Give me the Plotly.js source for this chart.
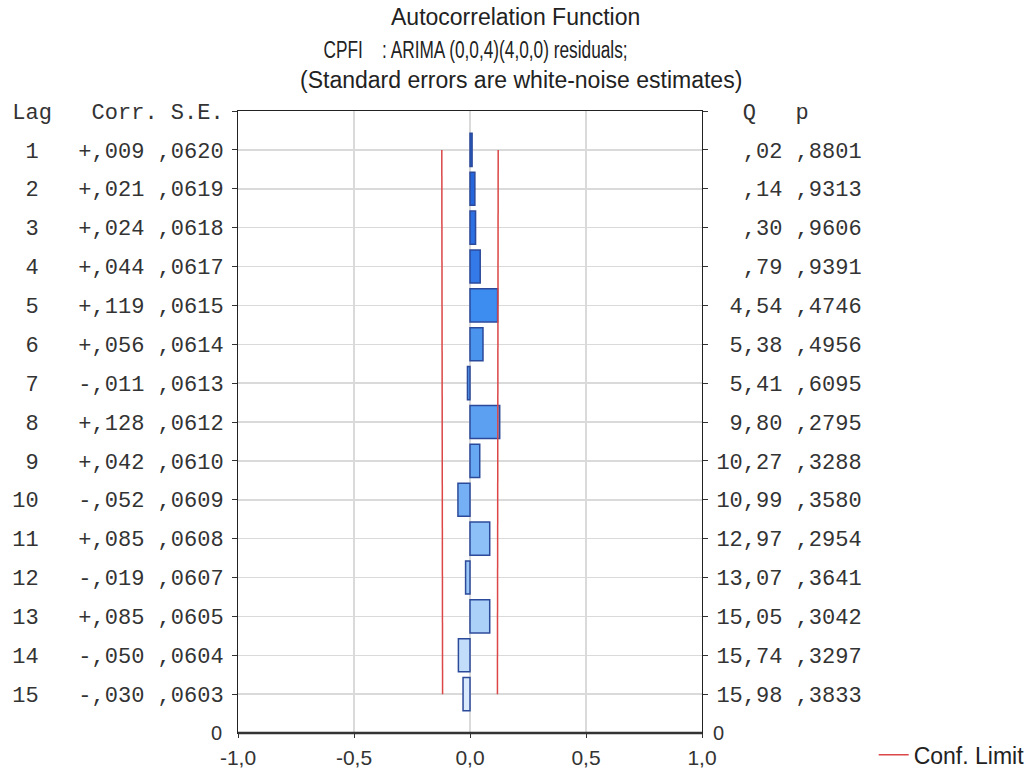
<!DOCTYPE html>
<html>
<head>
<meta charset="utf-8">
<script src="https://cdn.plot.ly/plotly-3.0.1.min.js"></script>
<style>html,body{margin:0;padding:0;background:#fff;}#chart{width:1035px;height:773px;}</style>
</head>
<body>
<div id="chart"></div>
<script>
// ---- data ----
const lags = [1,2,3,4,5,6,7,8,9,10,11,12,13,14,15];
const corr = [0.009,0.021,0.024,0.044,0.119,0.056,-0.011,0.128,0.042,-0.052,0.085,-0.019,0.085,-0.050,-0.030];
const se   = [0.0620,0.0619,0.0618,0.0617,0.0615,0.0614,0.0613,0.0612,0.0610,0.0609,0.0608,0.0607,0.0605,0.0604,0.0603];
const qStat = [0.02,0.14,0.30,0.79,4.54,5.38,5.41,9.80,10.27,10.99,12.97,13.07,15.05,15.74,15.98];
const pVal  = [0.8801,0.9313,0.9606,0.9391,0.4746,0.4956,0.6095,0.2795,0.3288,0.3580,0.2954,0.3641,0.3042,0.3297,0.3833];
const xTickVals = [-1,-0.5,0,0.5,1];
const xTickText = ['-1,0','-0,5','0,0','0,5','1,0'];
const barColors = ['#1f5fd8','#2566dc','#2b6fe2','#3379e8','#3d8cef','#4a94ee','#5498ef','#5ca1f1',
                   '#68a8f2','#74b0f3','#8cc0f6','#9cc8f7','#abd1f8','#c2ddf9','#d9eafc'];

// ---- formatting ----
const NB = '\u00A0';
const sp = s => s.replace(/ /g, NB);
const fCorr = v => (v < 0 ? '-' : '+') + ',' + String(Math.round(Math.abs(v)*1000)).padStart(3,'0');
const fSE = v => ',' + String(Math.round(v*10000)).padStart(4,'0');
const fQ = v => { let s = v.toFixed(2).replace('.', ','); if (s.startsWith('0,')) s = s.slice(1); return s; };
const leftText = [sp('Lag   Corr. S.E.')].concat(lags.map((l,i) => sp(String(l).padStart(2) + '   ' + fCorr(corr[i]) + ' ' + fSE(se[i]))));
const rightText = [sp('  Q   p')].concat(lags.map((l,i) => sp(fQ(qStat[i]).padStart(5) + ' ' + fSE(pVal[i]))));
const yTickVals = [0].concat(lags);

// confidence limits (±1.96 SE)
const clX = [], clY = [];
lags.forEach((l,i) => { clX.push(-1.96*se[i]); clY.push(l); });
clX.push(null); clY.push(null);
lags.forEach((l,i) => { clX.push(1.96*se[i]); clY.push(l); });

const traces = [
  {type:'bar', orientation:'h', x:corr, y:lags, width:0.85,
   marker:{color:barColors, line:{color:'#2c4a9a', width:1.5}},
   showlegend:false, hoverinfo:'x+y'},
  {type:'scatter', mode:'lines', x:clX, y:clY, name:'Conf. Limit',
   line:{color:'#dc4646', width:1.5}, showlegend:true},
  {type:'scatter', mode:'markers', x:[0], y:[1], yaxis:'y2', marker:{opacity:0},
   showlegend:false, hoverinfo:'skip'}
];

const monoFont = {family:'Liberation Mono, Courier New, monospace', size:22, color:'#333'};
const sansFamily = 'Liberation Sans, Arial, sans-serif';
const titleFont = {family:sansFamily, size:23, color:'#222'};

const layout = {
  width:1035, height:773,
  margin:{l:238, r:333, t:111, b:40, autoexpand:false},
  paper_bgcolor:'#fff', plot_bgcolor:'#fff',
  bargap:0,
  xaxis:{range:[-1,1], tickvals:xTickVals, ticktext:xTickText, showgrid:true, gridcolor:'#dadada', gridwidth:1.5,
         zeroline:false, showline:true, linecolor:'#222', linewidth:1, mirror:true,
         ticks:'outside', ticklen:4, tickcolor:'#333', ticklabelstandoff:2,
         tickfont:{family:sansFamily, size:21, color:'#333'}},
  yaxis:{range:[16,0], tickvals:yTickVals, ticktext:leftText, showgrid:true, gridcolor:'#dadada', gridwidth:1.5,
         zeroline:false, showline:true, linecolor:'#222', linewidth:1, mirror:true,
         ticks:'outside', ticklen:5, tickcolor:'#333', tickfont:monoFont, ticklabelstandoff:4},
  yaxis2:{range:[16,0], overlaying:'y', side:'right', tickvals:yTickVals, ticktext:rightText, showgrid:false,
          zeroline:false, ticks:'outside', ticklen:5, tickcolor:'#333', tickfont:monoFont, ticklabelstandoff:4},
  showlegend:true,
  legend:{x:1.37, y:-0.035, xanchor:'left', yanchor:'middle', font:{family:sansFamily, size:23, color:'#222'},
          bgcolor:'rgba(0,0,0,0)'},
  shapes:[{type:'line', xref:'paper', yref:'paper', x0:0, x1:1, y0:0, y1:0, line:{color:'#333', width:2.5}}],
  annotations:[
    {text:'Autocorrelation Function', xref:'paper', yref:'paper', x:0.597, y:1.151, xanchor:'center', yanchor:'middle', showarrow:false, font:titleFont},
    {text:'CPFI' + NB+NB+NB+NB + ': ARIMA (0,0,4)(4,0,0) residuals;', xref:'paper', yref:'paper', x:0.511, y:1.098, xanchor:'center', yanchor:'middle', showarrow:false, font:titleFont},
    {text:'(Standard errors are white-noise estimates)', xref:'paper', yref:'paper', x:0.610, y:1.050, xanchor:'center', yanchor:'middle', showarrow:false, font:titleFont},
    {text:'0', xref:'paper', yref:'y', x:-0.030, y:16, xanchor:'right', yanchor:'middle', showarrow:false, font:{family:sansFamily, size:20, color:'#333'}},
    {text:'0', xref:'paper', yref:'y', x:1.019, y:16, xanchor:'left', yanchor:'middle', showarrow:false, font:{family:sansFamily, size:20, color:'#333'}}
  ]
};

Plotly.newPlot('chart', traces, layout, {displayModeBar:false, staticPlot:true}).then(gd => {
  // the second subtitle line is drawn horizontally condensed in the original
  const t = gd.querySelectorAll('.annotation-text')[1];
  if (t) { t.setAttribute('textLength', '304'); t.setAttribute('lengthAdjust', 'spacingAndGlyphs'); }
});
</script>
</body>
</html>
